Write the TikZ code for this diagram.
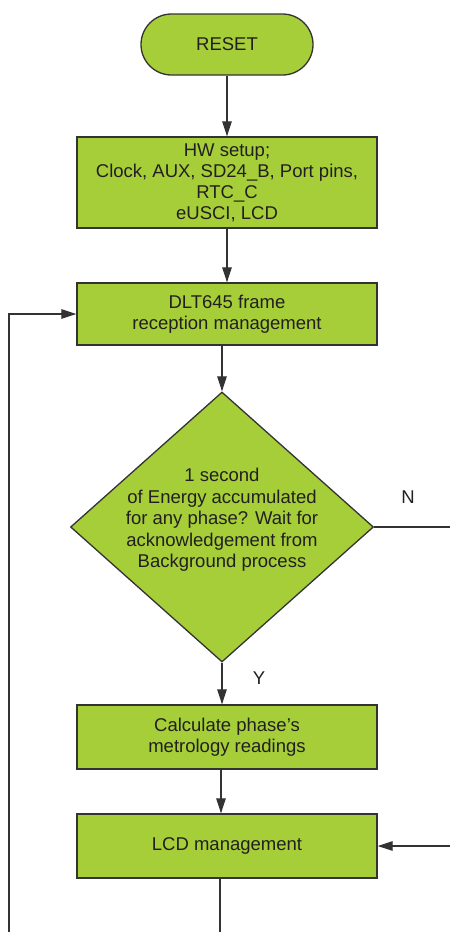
\documentclass[tikz,border=0pt]{standalone}
\usepackage{fontspec}
\setmainfont{Liberation Sans}
\usetikzlibrary{shapes.geometric,arrows.meta}
\definecolor{boxgreen}{HTML}{A6CE39}
\definecolor{edgegray}{HTML}{333333}
\definecolor{txt}{HTML}{231F20}
\begin{document}
\begin{tikzpicture}[x=1pt,y=-1pt,
  every node/.style={font=\fontsize{18.5}{21}\selectfont, text=txt},
  procbox/.style={draw=edgegray, line width=1.3pt, fill=boxgreen, minimum width=300pt, align=center, inner sep=0pt},
  termbox/.style={draw=edgegray, line width=1.3pt, fill=boxgreen, rounded corners=30.5pt, minimum width=172pt, minimum height=61pt, inner sep=0pt},
  decbox/.style={draw=edgegray, line width=1.3pt, fill=boxgreen, shape=diamond, minimum width=303pt, minimum height=270pt, inner sep=0pt, align=center},
  conn/.style={draw=edgegray, line width=1.2pt},
  arr/.style={conn, -{Triangle[length=15pt,width=9.5pt]}},
  lbl/.style={font=\fontsize{18.5}{21}\selectfont}
]
\useasboundingbox (0,0) rectangle (450,932);
\node[termbox] (reset) at (227,44.5) {RESET};
\node[procbox, minimum height=91pt] (hw) at (227,182.5) {HW setup;\\Clock, AUX, SD24\_B, Port pins,\\RTC\_C\\eUSCI, LCD};
\node[procbox, minimum height=62pt] (dlt) at (227,314) {DLT645 frame\\reception management};
\node[decbox] (dia) at (222,527) {};
\node[align=center, font=\fontsize{18.5}{21.5}\selectfont] (diatext) at (222,520) {1 second\\of Energy accumulated\\for any phase? Wait for\\acknowledgement from\\Background process};
\node[procbox, minimum height=64pt] (calc) at (227,737) {Calculate phase's\\metrology readings};
\node[procbox, minimum height=64pt] (lcd) at (227,846) {LCD management};
\node[lbl] (nlab) at (408,497) {N};
\node[lbl] (ylab) at (259,678) {Y};
\coordinate (loopbot) at (9,932);
\coordinate (loopcorner) at (9,314);
\coordinate (nend) at (450,527);
\coordinate (rin) at (450,846);
\coordinate (lcdout) at (220,932);
\draw[arr] (reset.south) -- (hw.north);
\draw[arr] (hw.south) -- (dlt.north);
\draw[arr] (dlt.south -| dia.north) -- (dia.north);
\draw[arr] (dia.south) -- (calc.north -| dia.south);
\draw[arr] (calc.south -| 221,0) -- (lcd.north -| 221,0);
\draw[conn] (lcd.south -| lcdout) -- (lcdout);
\draw[arr] (loopbot) -- (loopcorner) -- (dlt.west);
\draw[conn] (dia.east) -- (nend);
\draw[arr] (rin) -- (lcd.east);
\end{tikzpicture}
\end{document}
